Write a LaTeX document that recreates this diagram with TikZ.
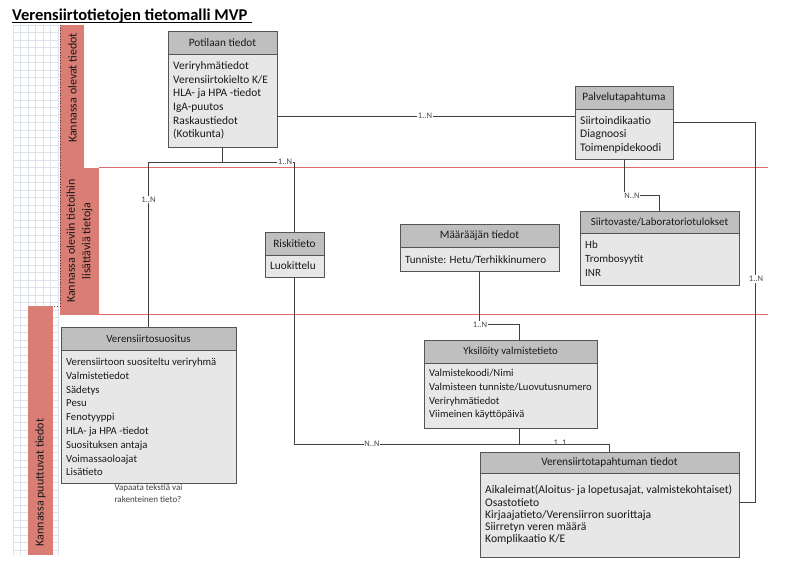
\documentclass[tikz,border=0pt]{standalone}
\usepackage{fontspec}
\setmainfont{Carlito}
\definecolor{bandred}{RGB}{217,125,117}
\definecolor{redline}{RGB}{222,108,108}
\definecolor{gridc}{RGB}{222,226,234}
\definecolor{hdrfill}{RGB}{191,191,191}
\definecolor{bdyfill}{RGB}{231,231,231}
\definecolor{boxline}{RGB}{85,85,85}
\definecolor{connc}{RGB}{64,64,64}
\definecolor{txtc}{RGB}{25,25,25}
\definecolor{cardc}{RGB}{70,70,70}
\begin{document}
\begin{tikzpicture}[x=1pt,y=-1pt,
  hdr/.style={draw=boxline, fill=hdrfill, line width=0.9pt, inner sep=0pt, outer sep=0pt,
    anchor=north west, text=txtc, font=\fontsize{11.3}{13.7}\selectfont},
  bdy/.style={draw=boxline, fill=bdyfill, line width=0.9pt, inner sep=0pt, outer sep=0pt,
    anchor=north west},
  btxt/.style={anchor=north west, inner sep=0pt, align=left, text=txtc,
    font=\fontsize{11.3}{13.7}\selectfont},
  conn/.style={draw=connc, line width=0.9pt},
  card/.style={font=\fontsize{8.5}{9}\selectfont, text=cardc, inner sep=0.8pt, fill=white},
  bandtxt/.style={rotate=90, text=txtc, inner sep=0pt, font=\fontsize{12}{15.6}\selectfont},
  redln/.style={draw=redline, line width=0.9pt}
]
\useasboundingbox (0,0) rectangle (787,560);
\fill[white] (0,0) rectangle (787,560);

% grid
\foreach \i in {0,...,6} \draw[gridc, line width=0.4pt] (13+\i*7.5,25) -- (13+\i*7.5,555);
\foreach \j in {0,...,70} \draw[gridc, line width=0.4pt] (13,25+\j*7.5) -- (58,25+\j*7.5);

% bands
\fill[bandred] (60,25) rectangle (84,167.5);
\fill[bandred] (60,167.5) rectangle (99,314.5);
\fill[bandred] (28,306) rectangle (53,555);
\draw[dotted, black!75, line width=0.7pt] (60,25) -- (60,306) -- (53,306);
\node[bandtxt] (band1) at (72.5,88) {Kannassa olevat tiedot};
\node[bandtxt, align=center] (band2) at (79.5,241) {Kannassa oleviin tietoihin\\lisättäviä tietoja};
\node[bandtxt] (band3) at (40.5,482.5) {Kannassa puuttuvat tiedot};

% red lines
\draw[redln] (99,167.5) -- (768,167.5);
\draw[redln] (99,314.5) -- (768,314.5);

% title
\node[anchor=base west, inner sep=0pt, font=\fontsize{16.5}{20}\selectfont\bfseries, text=black] (title) at (12,20) {Verensiirtotietojen tietomalli MVP};
\draw[black, line width=1.3pt] (title.base west) ++(0,2.8) -- ++(239.5,0);

% boxes
\node[hdr, minimum width=109pt, minimum height=23pt] (pot) at (168,31) {Potilaan tiedot};
\node[bdy, minimum width=109pt, minimum height=93pt] (potb) at (pot.south west) {};
\node[btxt, font=\fontsize{11.4}{13.7}\selectfont] (pott) at (173,59.2) {\rule{0pt}{10pt}Veriryhmätiedot\\Verensiirtokielto K/E\\HLA- ja HPA -tiedot\\IgA-puutos\\Raskaustiedot\\(Kotikunta)};

\node[hdr, minimum width=98pt, minimum height=23pt] (pal) at (575,86) {Palvelutapahtuma};
\node[bdy, minimum width=98pt, minimum height=50pt] (palb) at (pal.south west) {};
\node[btxt, font=\fontsize{11.6}{13.5}\selectfont] (palt) at (580,114.2) {\rule{0pt}{10pt}Siirtoindikaatio\\Diagnoosi\\Toimenpidekoodi};

\node[hdr, minimum width=159pt, minimum height=22pt, font=\fontsize{10.9}{13}\selectfont] (sii) at (580,211) {Siirtovaste/Laboratoriotulokset};
\node[bdy, minimum width=159pt, minimum height=52pt] (siib) at (sii.south west) {};
\node[btxt, font=\fontsize{11}{14}\selectfont] (siit) at (585,238.5) {\rule{0pt}{10pt}Hb\\Trombosyytit\\INR};

\node[hdr, minimum width=159pt, minimum height=23pt] (maa) at (400,224) {Määrääjän tiedot};
\node[bdy, minimum width=159pt, minimum height=24pt] (maab) at (maa.south west) {};
\node[btxt, font=\fontsize{11.1}{13.7}\selectfont] (maat) at (405,253.5) {\rule{0pt}{10pt}Tunniste: Hetu/Terhikkinumero};

\node[hdr, minimum width=59pt, minimum height=23pt] (ris) at (265,232) {Riskitieto};
\node[bdy, minimum width=59pt, minimum height=22pt] (risb) at (ris.south west) {};
\node[btxt] (rist) at (270,259.5) {\rule{0pt}{10pt}Luokittelu};

\node[hdr, minimum width=175pt, minimum height=23pt, font=\fontsize{10.9}{13}\selectfont] (ver) at (61,327) {Verensiirtosuositus};
\node[bdy, minimum width=175pt, minimum height=133pt] (verb) at (ver.south west) {};
\node[btxt, font=\fontsize{10.7}{13.8}\selectfont] (vert) at (66,355.2) {\rule{0pt}{10pt}Verensiirtoon suositeltu veriryhmä\\Valmistetiedot\\Sädetys\\Pesu\\Fenotyyppi\\HLA- ja HPA -tiedot\\Suosituksen antaja\\Voimassaoloajat\\Lisätieto};

\node[hdr, minimum width=173pt, minimum height=23pt, font=\fontsize{10.7}{13}\selectfont] (yks) at (424,340) {Yksilöity valmistetieto};
\node[bdy, minimum width=173pt, minimum height=65pt] (yksb) at (yks.south west) {};
\node[btxt, font=\fontsize{10.6}{13.8}\selectfont] (ykst) at (429,366.2) {\rule{0pt}{10pt}Valmistekoodi/Nimi\\Valmisteen tunniste/Luovutusnumero\\Veriryhmätiedot\\Viimeinen käyttöpäivä};

\node[hdr, minimum width=259pt, minimum height=21pt] (vtt) at (480,452) {Verensiirtotapahtuman tiedot};
\node[bdy, minimum width=259pt, minimum height=84pt] (vttb) at (vtt.south west) {};
\node[btxt, font=\fontsize{11.6}{12.3}\selectfont] (vttt) at (485,483.5) {\rule{0pt}{10pt}Aikaleimat(Aloitus- ja lopetusajat, valmistekohtaiset)\\Osastotieto\\Kirjaajatieto/Verensiirron suorittaja\\Siirretyn veren määrä\\Komplikaatio K/E};

% annotation
\node[anchor=north west, inner sep=0pt, align=left, text=black!75, font=\fontsize{9}{12}\selectfont] (note) at (114.3,482.5) {\rule{0pt}{8pt}Vapaata tekstiä vai\\rakenteinen tieto?};

% connectors
\coordinate (j1) at (potb.south |- 0,162);
\draw[conn] (potb.east |- 0,116) -- (palb.west |- 0,116);
\draw[conn] (potb.south) -- (j1);
\draw[conn] (ver.north) -- (ver.north |- j1) -- (ris.north |- j1) -- (ris.north);
\draw[conn] (risb.south) -- (risb.south |- 0,444) -- (vtt.north |- 0,444) -- (vtt.north);
\draw[conn] (yksb.south -| 519,0) -- (519,444);
\draw[conn] (palb.south) -- (palb.south |- 0,195.5) -- (sii.north |- 0,195.5) -- (sii.north);
\draw[conn] (palb.east |- 0,122) -- (755,122) -- (755,502) -- (vttb.east |- 0,502);
\draw[conn] (maab.south) -- (maab.south |- 0,324.3) -- (519,324.3) -- (yks.north -| 519,0);

% cardinalities
\node[card] (c1) at (425,116) {1..N};
\node[card] (c2) at (285,162) {1..N};
\node[card] (c3) at (148.5,199.3) {1..N};
\node[card] (c4) at (632,195.5) {N..N};
\node[card] (c5) at (756,279) {1..N};
\node[card] (c6) at (480,324.3) {1..N};
\node[card] (c7) at (372,444) {N..N};
\node[card, fill=none] (c8) at (560,443) {1..1};
\end{tikzpicture}
\end{document}
